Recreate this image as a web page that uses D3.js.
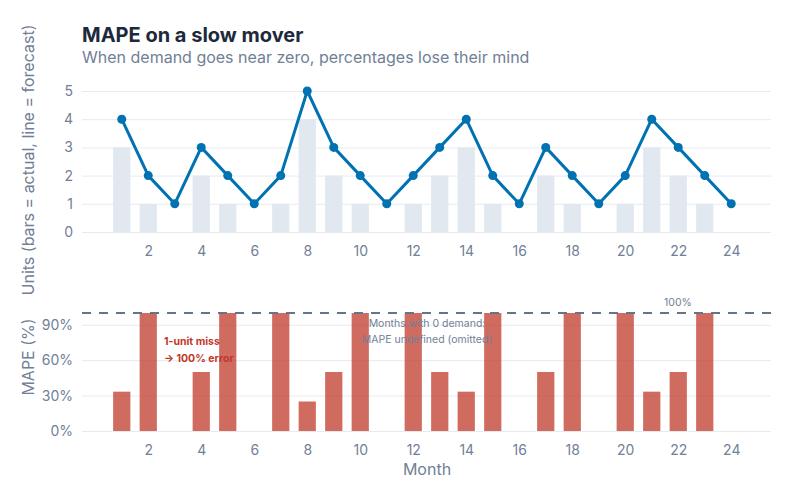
<!DOCTYPE html>
<html>
<head>
<meta charset="utf-8">
<script src="https://cdn.jsdelivr.net/npm/d3@7"></script>
<style>
  body { margin: 0; background: #fff; }
  svg { font-family: Inter, "Noto Sans", sans-serif; }
</style>
</head>
<body>
<svg id="chart" width="800" height="500"></svg>
<script>
// data: 24 months of a slow-moving item
var months   = d3.range(1, 25);
var actual   = [3, 1, 0, 2, 1, 0, 1, 4, 2, 1, 0, 1, 2, 3, 1, 0, 2, 1, 0, 1, 3, 2, 1, 0];
var forecast = [4, 2, 1, 3, 2, 1, 2, 5, 3, 2, 1, 2, 3, 4, 2, 1, 3, 2, 1, 2, 4, 3, 2, 1];
var monthTicks = [2, 4, 6, 8, 10, 12, 14, 16, 18, 20, 22, 24];
var unitTicks  = [0, 1, 2, 3, 4, 5];
var mapeTicks  = [0, 30, 60, 90];

// MAPE per month, undefined when actual is 0
var mape = months.map(function(m, i) {
  return { month: m, value: actual[i] === 0 ? null : Math.abs(forecast[i] - actual[i]) / actual[i] * 100 };
});

var svg = d3.select("#chart");
var grey = "#718096", grid = "#e6ebf2";

var x = d3.scaleLinear().domain([-0.5, 25.5]).range([82, 771]);
var yTop = d3.scaleLinear().domain([0, 5]).range([232, 91]);
var yBot = d3.scaleLinear().domain([0, 100]).range([431, 313]);
var barW = (x(1) - x(0)) * 0.65;

/* titel */
svg.append("text").attr("x", 82).attr("y", 42)
  .attr("font-size", 20).attr("font-weight", "bold").attr("fill", "#1e293b")
  .text("MAPE on a slow mover");
svg.append("text").attr("x", 82).attr("y", 63)
  .attr("font-size", 16).attr("fill", grey)
  .text("When demand goes near zero, percentages lose their mind");

function yAxis(scale, ticks, fmt) {
  var g = svg.append("g")
    .attr("transform", "translate(82,0)")
    .call(d3.axisLeft(scale).tickValues(ticks).tickFormat(fmt).tickSize(-689).tickPadding(9));
  g.select(".domain").remove();
  g.selectAll("line").attr("stroke", grid);
  g.selectAll("text").attr("fill", grey).attr("font-size", 14).attr("font-family", "Inter, sans-serif");
  return g;
}

function xAxis(yPos) {
  var g = svg.append("g")
    .attr("transform", "translate(0," + yPos + ")")
    .call(d3.axisBottom(x).tickValues(monthTicks).tickSize(0).tickPadding(14));
  g.select(".domain").remove();
  g.selectAll("text").attr("fill", grey).attr("font-size", 14).attr("font-family", "Inter, sans-serif");
}

/* bovenste paneel: actual vs forecast */
yAxis(yTop, unitTicks, d3.format("d"));
xAxis(232);

svg.append("g").selectAll("rect")
  .data(months.filter(function(m, i) { return actual[i] > 0; }))
  .enter().append("rect")
    .attr("x", function(m) { return x(m) - barW / 2; })
    .attr("y", function(m) { return yTop(actual[m - 1]); })
    .attr("width", barW)
    .attr("height", function(m) { return yTop(0) - yTop(actual[m - 1]); })
    .attr("fill", "#e2e8f0");

var line = d3.line()
  .x(function(m) { return x(m); })
  .y(function(m) { return yTop(forecast[m - 1]); });

svg.append("path").datum(months)
  .attr("d", line)
  .attr("fill", "none")
  .attr("stroke", "#0072b2")
  .attr("stroke-width", 3)
  .attr("stroke-linejoin", "round");

svg.append("g").selectAll("circle")
  .data(months)
  .enter().append("circle")
    .attr("cx", function(m) { return x(m); })
    .attr("cy", function(m) { return yTop(forecast[m - 1]); })
    .attr("r", 4.5)
    .attr("fill", "#0072b2");

svg.append("text")
  .attr("transform", "translate(34,160) rotate(-90)")
  .attr("text-anchor", "middle")
  .attr("font-size", 16).attr("fill", grey)
  .text("Units (bars = actual, line = forecast)");

/* onderste paneel: MAPE */
yAxis(yBot, mapeTicks, function(d) { return d + "%"; });
xAxis(431);

svg.append("g").selectAll("rect")
  .data(mape.filter(function(d) { return d.value !== null; }))
  .enter().append("rect")
    .attr("x", function(d) { return x(d.month) - barW / 2; })
    .attr("y", function(d) { return yBot(d.value); })
    .attr("width", barW)
    .attr("height", function(d) { return yBot(0) - yBot(d.value); })
    .attr("fill", "#c0392b")
    .attr("fill-opacity", 0.75);

svg.append("line")
  .attr("x1", 82).attr("x2", 771)
  .attr("y1", yBot(100)).attr("y2", yBot(100))
  .attr("stroke", "#64748b").attr("stroke-width", 2)
  .attr("stroke-dasharray", "9,8");

svg.append("text")
  .attr("x", 678).attr("y", yBot(100) - 7)
  .attr("text-anchor", "middle").attr("font-size", 10.5).attr("fill", grey)
  .text("100%");

var note = svg.append("text")
  .attr("x", 427).attr("y", 327)
  .attr("text-anchor", "middle").attr("font-size", 10.5).attr("fill", grey);
note.append("tspan").attr("x", 427).text("Months with 0 demand:");
note.append("tspan").attr("x", 427).attr("dy", 16).text("MAPE undefined (omitted)");

var miss = svg.append("text")
  .attr("x", 164).attr("y", 345)
  .attr("font-size", 10.5).attr("font-weight", "bold").attr("fill", "#c0392b");
miss.append("tspan").attr("x", 164).text("1-unit miss");
miss.append("tspan").attr("x", 164).attr("dy", 17).text("\u2192 100% error");

svg.append("text")
  .attr("transform", "translate(34,357) rotate(-90)")
  .attr("text-anchor", "middle")
  .attr("font-size", 16).attr("fill", grey)
  .text("MAPE (%)");

svg.append("text")
  .attr("x", 427).attr("y", 475)
  .attr("text-anchor", "middle")
  .attr("font-size", 16).attr("fill", grey)
  .text("Month");
</script>
</body>
</html>
